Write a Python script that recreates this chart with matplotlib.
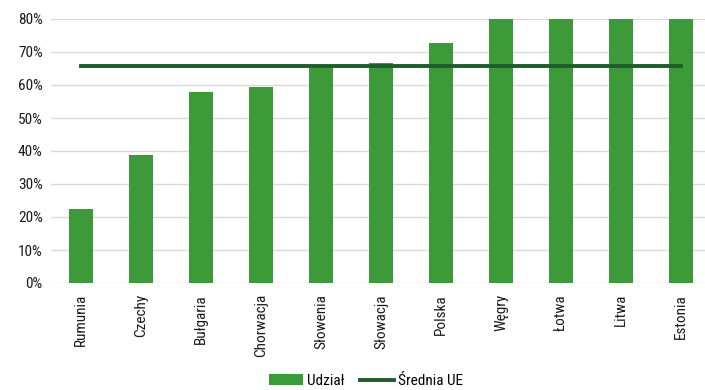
import numpy as np
import matplotlib.pyplot as plt

plt.rcParams['font.family'] = ['Roboto Condensed', 'DejaVu Sans']

kraje = ['Rumunia', 'Czechy', 'Bułgaria', 'Chorwacja', 'Słowenia', 'Słowacja',
         'Polska', 'Węgry', 'Łotwa', 'Litwa', 'Estonia']
udzial = [22.4, 38.8, 57.9, 59.4, 65.6, 66.6, 72.8, 84.0, 86.0, 88.0, 90.0]
srednia_ue = 65.8

x = np.arange(len(kraje))

fig = plt.figure(figsize=(7.05, 3.9), dpi=100)
ax = fig.add_axes([51/705, 107/390, 654/705, 264/390])

bars = ax.bar(x, udzial, width=0.4, color='#3c9a38', label='Udział', zorder=2)
line, = ax.plot(x, [srednia_ue]*len(x), color='#1f5c2b', lw=2.8, label='Średnia UE', zorder=3)

ax.set_ylim(0, 80)
ax.set_xlim(-0.5, 10.4)
ax.set_yticks(range(0, 81, 10))
ax.set_yticklabels([f'{v}%' for v in range(0, 81, 10)])
ax.set_xticks(x)
ax.set_xticklabels(kraje, rotation=90)
ax.tick_params(axis='both', length=0, labelsize=11, colors='#1a1a1a')
ax.tick_params(axis='x', pad=8)
ax.tick_params(axis='y', pad=6)
ax.grid(axis='y', color='#d9d9d9', lw=1, zorder=0)
for s in ax.spines.values():
    s.set_visible(False)

fig.legend([bars, line], ['Udział', 'Średnia UE'], loc='center',
           bbox_to_anchor=(366/705, 1 - 381/390), ncol=2, frameon=False,
           fontsize=11, handlelength=2.2, handletextpad=0.3, columnspacing=1.0)

fig.savefig('out.png', dpi=100)
